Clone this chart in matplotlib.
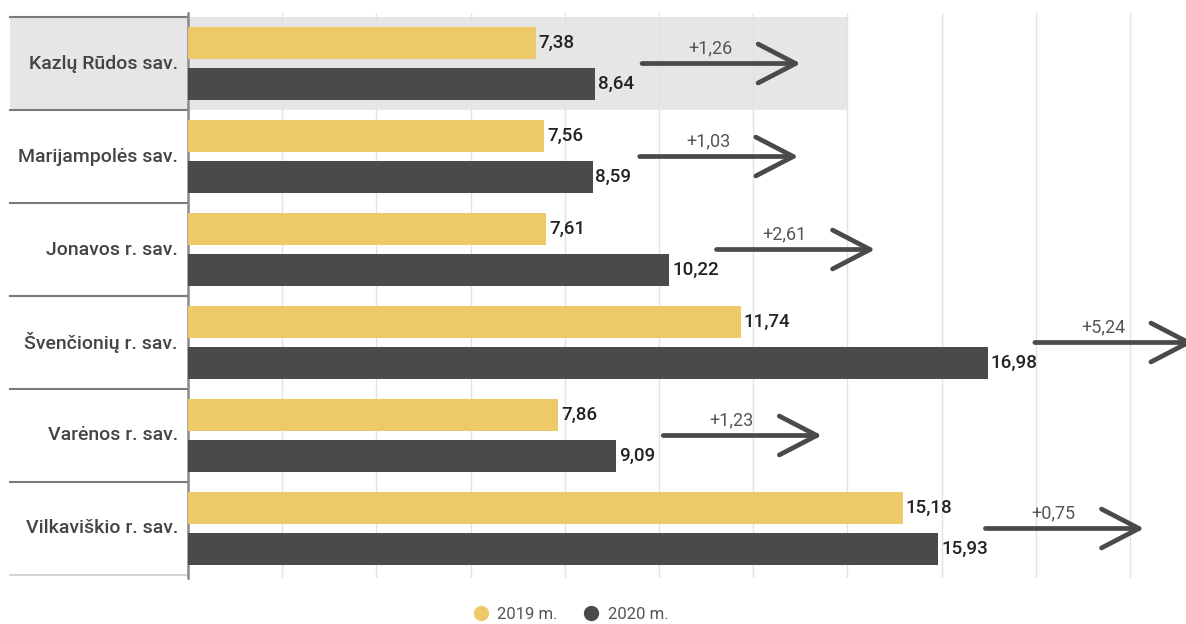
import matplotlib.pyplot as plt
from matplotlib.lines import Line2D
from matplotlib.patches import Rectangle

plt.rcParams['font.family'] = ['Roboto', 'DejaVu Sans']

# data
regions = ['Kazlų Rūdos sav.', 'Marijampolės sav.', 'Jonavos r. sav.',
           'Švenčionių r. sav.', 'Varėnos r. sav.', 'Vilkaviškio r. sav.']
val_2019 = [7.38, 7.56, 7.61, 11.74, 7.86, 15.18]
val_2020 = [8.64, 8.59, 10.22, 16.98, 9.09, 15.93]
series_names = ['2019 m.', '2020 m.']

c19 = '#EDC96A'
c20 = '#4A4A4A'
txt = '#444444'

def fmt(v):
    return ('%.2f' % v).replace('.', ',')

fig = plt.figure(figsize=(11.86, 6.24), dpi=100)
ax = fig.add_axes([188 / 1186, 1 - 578 / 624, 1 - 188 / 1186, 565 / 624])

n = len(regions)
ys = list(range(n))
bh = 0.335
off = 0.221

ax.set_xlim(0, 998 / 47.1)
ax.set_ylim(5.5 + 3 / 92.6, -0.5 - 4 / 92.6)

# highlight first row
ax.add_patch(Rectangle((-178 / 47.1, -0.5), 14 + 178 / 47.1, 1.0,
                       facecolor='#E6E6E6', edgecolor='none', zorder=0, clip_on=False))

# grid
for g in range(0, 22, 2):
    ax.axvline(g, color='#E2E2E2', lw=1, zorder=1)

ax.barh([y - off for y in ys], val_2019, height=bh, color=c19, zorder=3)
ax.barh([y + off for y in ys], val_2020, height=bh, color=c20, zorder=3)

for y, a, b in zip(ys, val_2019, val_2020):
    ax.text(a + 0.06, y - off, fmt(a), va='center', ha='left', fontsize=13.5,
            fontweight='medium', color='#222222', zorder=4)
    ax.text(b + 0.06, y + off, fmt(b), va='center', ha='left', fontsize=13.5,
            fontweight='medium', color='#222222', zorder=4)
    # change arrow
    x0 = b + 1.0
    x1 = x0 + 3.37
    ya = y
    ax.annotate('', xy=(x1, ya), xytext=(x0, ya),
                arrowprops=dict(arrowstyle='->,head_length=27,head_width=14',
                                mutation_scale=1, color='#4A4A4A', lw=3.4,
                                shrinkA=0, shrinkB=0),
                annotation_clip=False, zorder=5)
    ax.text(x0 + 1.45, ya - 0.07, '+' + fmt(b - a), ha='center', va='bottom',
            fontsize=13, color='#555555', zorder=6)

# row labels and separators
for y, name in zip(ys, regions):
    ax.text(-10 / 47.1, y, name, ha='right', va='center', fontsize=14,
            fontweight='medium', color=txt)
for k in range(n):
    ax.plot([-178 / 47.1, 0], [k - 0.5, k - 0.5], color='#7A7A7A', lw=1.5,
            clip_on=False, zorder=2)
ax.plot([-178 / 47.1, 0], [n - 0.5, n - 0.5], color='#CCCCCC', lw=1.2,
        clip_on=False, zorder=2)

for s in ['top', 'right', 'bottom']:
    ax.spines[s].set_visible(False)
ax.spines['left'].set_color('#8A8A8A')
ax.spines['left'].set_linewidth(1.8)
ax.set_xticks([])
ax.set_yticks([])

handles = [Line2D([], [], marker='o', ls='', color=c19, markersize=10),
           Line2D([], [], marker='o', ls='', color=c20, markersize=10)]
fig.legend(handles, series_names, loc='center', bbox_to_anchor=(0.481, 0.016),
           ncol=2, frameon=False, fontsize=12, labelcolor='#555555',
           handletextpad=0.5, columnspacing=1.5, handlelength=1.0)

fig.savefig('out.png', dpi=100)
